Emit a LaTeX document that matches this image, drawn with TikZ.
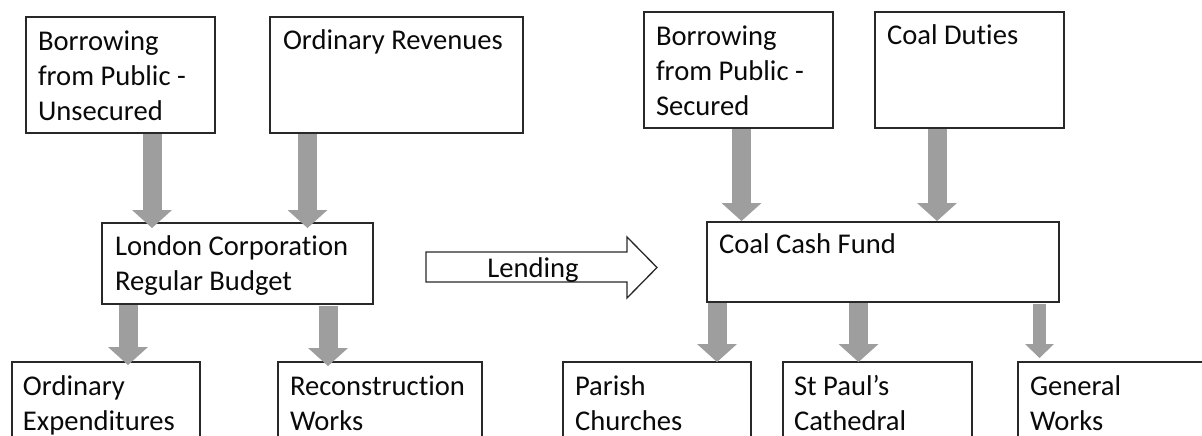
\documentclass[tikz,border=0pt]{standalone}
\usepackage{fontspec}
\setmainfont{Carlito}[Ligatures={NoCommon}]
\usetikzlibrary{arrows.meta,calc}
\definecolor{arrowgray}{RGB}{158,158,158}
\definecolor{linecol}{RGB}{40,40,40}
\definecolor{txtcol}{RGB}{10,10,10}
\tikzset{
  box/.style={draw=linecol, line width=1.3pt, fill=white, anchor=north west, inner sep=0pt, outer sep=0pt},
  txt/.style={anchor=north west, inner sep=0pt, outer sep=0pt, align=left, text=txtcol, font=\fontsize{28.6}{35}\selectfont},
  blk/.style={draw=arrowgray, line width=19pt, -{Triangle[width=40pt,length=18pt,line width=0pt]}},
  blksmall/.style={draw=arrowgray, line width=13pt, -{Triangle[width=29pt,length=14pt,line width=0pt]}},
}
\newcommand{\fr}{\rule{0pt}{22pt}}
\begin{document}
\begin{tikzpicture}[x=1pt,y=-1pt]
\useasboundingbox (0,0) rectangle (1202,436);
\clip (0,0) rectangle (1202,436);
% boxes
\node[box, minimum width=189pt, minimum height=116pt] (b1) at (26,17) {};
\node[box, minimum width=253pt, minimum height=116pt] (b2) at (270,17) {};
\node[box, minimum width=271pt, minimum height=81pt] (lon) at (102,223) {};
\node[box, minimum width=188pt, minimum height=100pt] (oe) at (12,362) {};
\node[box, minimum width=204pt, minimum height=100pt] (rw) at (278,362) {};
\node[box, minimum width=189pt, minimum height=116pt] (bs) at (644,12) {};
\node[box, minimum width=189pt, minimum height=116pt] (cd) at (875,12) {};
\node[box, minimum width=352pt, minimum height=80pt] (cc) at (707,222) {};
\node[box, minimum width=188pt, minimum height=100pt] (pc) at (563,362) {};
\node[box, minimum width=189pt, minimum height=100pt] (sp) at (783,362) {};
\node[box, minimum width=200pt, minimum height=100pt] (gw) at (1018,362) {};
% texts
\node[txt] (b1t) at ($(b1.north west)+(12,11)$) {\fr Borrowing\\from Public -\\Unsecured};
\node[txt] (b2t) at ($(b2.north west)+(13,11)$) {\fr Ordinary Revenues};
\node[txt] (lont) at ($(lon.north west)+(13,10)$) {\fr London Corporation\\Regular Budget};
\node[txt] (oet) at ($(oe.north west)+(11,11)$) {\fr Ordinary\\Expenditures};
\node[txt] (rwt) at ($(rw.north west)+(12,11)$) {\fr Reconstruction\\Works};
\node[txt] (bst) at ($(bs.north west)+(12,11)$) {\fr Borrowing\\from Public -\\Secured};
\node[txt] (cdt) at ($(cd.north west)+(12,11)$) {\fr Coal Duties};
\node[txt] (cct) at ($(cc.north west)+(12,9)$) {\fr Coal Cash Fund};
\node[txt] (pct) at ($(pc.north west)+(12,11)$) {\fr Parish\\Churches};
\node[txt] (spt) at ($(sp.north west)+(11,11)$) {\fr St Paul’s\\Cathedral};
\node[txt] (gwt) at ($(gw.north west)+(12,11)$) {\fr General\\Works};
% arrow columns
\coordinate (x1) at (152,0);
\coordinate (x2) at (307.5,0);
\coordinate (x3) at (128,0);
\coordinate (x4) at (328,0);
\coordinate (x5) at (741.5,0);
\coordinate (x6) at (937,0);
\coordinate (x7) at (717,0);
\coordinate (x8) at (858.5,0);
\coordinate (x9) at (1039.5,0);
\draw[blk, shorten <=1pt, shorten >=-5pt] (b1.south -| x1) -- (lon.north -| x1);
\draw[blk, shorten <=1pt, shorten >=-5pt] (b2.south -| x2) -- (lon.north -| x2);
\draw[blk, shorten <=1pt, shorten >=-3pt] (lon.south -| x3) -- (oe.north -| x3);
\draw[blk, shorten <=2pt, shorten >=-4pt] (lon.south -| x4) -- (rw.north -| x4);
\draw[blk, shorten <=1pt, shorten >=1pt] (bs.south -| x5) -- (cc.north -| x5);
\draw[blk, shorten <=1pt, shorten >=1pt] (cd.south -| x6) -- (cc.north -| x6);
\draw[blk, shorten <=1pt, shorten >=0pt] (cc.south -| x7) -- (pc.north -| x7);
\draw[blk, shorten <=1pt, shorten >=0pt] (cc.south -| x8) -- (sp.north -| x8);
\draw[blksmall, shorten <=2pt, shorten >=4pt] (cc.south -| x9) -- (gw.north -| x9);
% lending arrow
\draw[draw=linecol, line width=1.3pt, fill=white, line join=miter]
  (426,252) -- (627,252) -- (627,237) -- (657,267.5) -- (627,298) -- (627,282) -- (426,282) -- cycle;
\coordinate (lendc) at (533,277);
\node[anchor=base, inner sep=0pt, text=txtcol, font=\fontsize{28.6}{35}\selectfont] (lend) at (lendc) {Lending};
\end{tikzpicture}
\end{document}
